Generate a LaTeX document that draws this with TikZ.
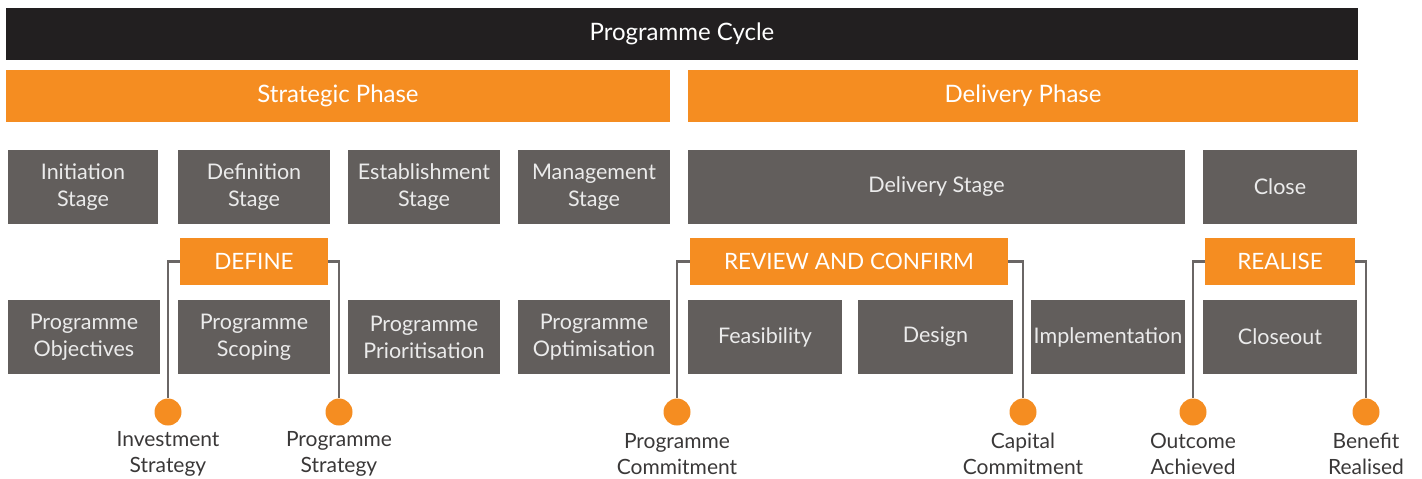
\documentclass[tikz,border=0pt]{standalone}
\usepackage{fontspec}
\setmainfont{Lato}
\usetikzlibrary{positioning}
\definecolor{barblack}{HTML}{221F20}
\definecolor{cycorange}{HTML}{F58D21}
\definecolor{stagegray}{HTML}{625E5C}
\definecolor{linegray}{HTML}{6A6665}
\definecolor{labelgray}{HTML}{3A3838}
\tikzset{
	bar/.style={rectangle, fill=barblack, text=white, inner sep=0pt, minimum height=52pt,
		font=\fontsize{24}{28}\selectfont},
	phase/.style={rectangle, fill=cycorange, text=white, inner sep=0pt, minimum height=52pt,
		font=\fontsize{24}{28}\selectfont},
	stagebox/.style={rectangle, fill=stagegray, text=white!92!black, inner sep=0pt,
		minimum height=74pt, align=center, font=\fontsize{21.5}{27}\selectfont},
	gate/.style={rectangle, fill=cycorange, text=white, inner sep=0pt, minimum height=47pt,
		font=\fontsize{22.5}{27}\selectfont},
	milestone/.style={circle, fill=cycorange, inner sep=0pt, minimum size=27pt},
	mslabel/.style={text=labelgray, align=center, inner sep=0pt,
		font=\fontsize{21}{26}\selectfont},
	bracket/.style={draw=linegray, line width=2.4pt}
}

\begin{document}
\begin{tikzpicture}[x=1pt, y=-1pt]

\useasboundingbox (0,0) rectangle (1422,479);

\node[bar, minimum width=1352pt] (cycle) at (682,34) {Programme Cycle};

\node[phase, minimum width=664pt] (strategic) at (338,96) {Strategic Phase};
\node[phase, minimum width=670pt] (delivery) at (1023,96) {Delivery Phase};

% stages
\node[stagebox, minimum width=150pt] (initiation) at (83,187) {Initiation\\Stage};
\node[stagebox, minimum width=152pt] (definition) at (254,187) {Definition\\Stage};
\node[stagebox, minimum width=152pt] (establish) at (424,187) {Establishment\\Stage};
\node[stagebox, minimum width=152pt] (manage) at (594,187) {Management\\Stage};
\node[stagebox, minimum width=497pt] (deliverystage) at (936.5,187) {Delivery Stage};
\node[stagebox, minimum width=154pt] (close) at (1280,187) {Close};

% gates
\node[gate, minimum width=148pt] (define) at (254,261.5) {DEFINE};
\node[gate, minimum width=318pt] (review) at (849,261.5) {REVIEW AND CONFIRM};
\node[gate, minimum width=150pt] (realise) at (1280,261.5) {REALISE};

% activities
\node[stagebox, minimum width=152pt] (objectives) at (84,337) {Programme\\Objectives};
\node[stagebox, minimum width=152pt] (scoping) at (254,337) {Programme\\Scoping};
\node[stagebox, minimum width=152pt] (prioritise) at (424,337) {Programme\\Prioritisation};
\node[stagebox, minimum width=152pt] (optimise) at (594,337) {Programme\\Optimisation};
\node[stagebox, minimum width=154pt] (feasibility) at (765,337) {Feasibility};
\node[stagebox, minimum width=155pt] (design) at (935.5,337) {Design};
\node[stagebox, minimum width=154pt] (implement) at (1108,337) {Implementation};
\node[stagebox, minimum width=154pt] (closeout) at (1280,337) {Closeout};

% milestones
\node[milestone] (invest) at (168,412) {};
\node[milestone] (progstrat) at (339,412) {};
\node[milestone] (progcommit) at (677,412) {};
\node[milestone] (capcommit) at (1023,412) {};
\node[milestone] (outcome) at (1193,412) {};
\node[milestone] (benefit) at (1366,412) {};

\node[mslabel] at (168,454) {Investment\\Strategy};
\node[mslabel] at (339,454) {Programme\\Strategy};
\node[mslabel] at (677,454) {Programme\\Commitment};
\node[mslabel] at (1023,454) {Capital\\Commitment};
\node[mslabel] at (1193,454) {Outcome\\Achieved};
\node[mslabel] at (1366,454) {Benefit\\Realised};

\draw[bracket] (define.west) -| (invest.north);
\draw[bracket] (define.east) -| (progstrat.north);
\draw[bracket] (review.west) -| (progcommit.north);
\draw[bracket] (review.east) -| (capcommit.north);
\draw[bracket] (realise.west) -| (outcome.north);
\draw[bracket] (realise.east) -| (benefit.north);

\end{tikzpicture}
\end{document}
